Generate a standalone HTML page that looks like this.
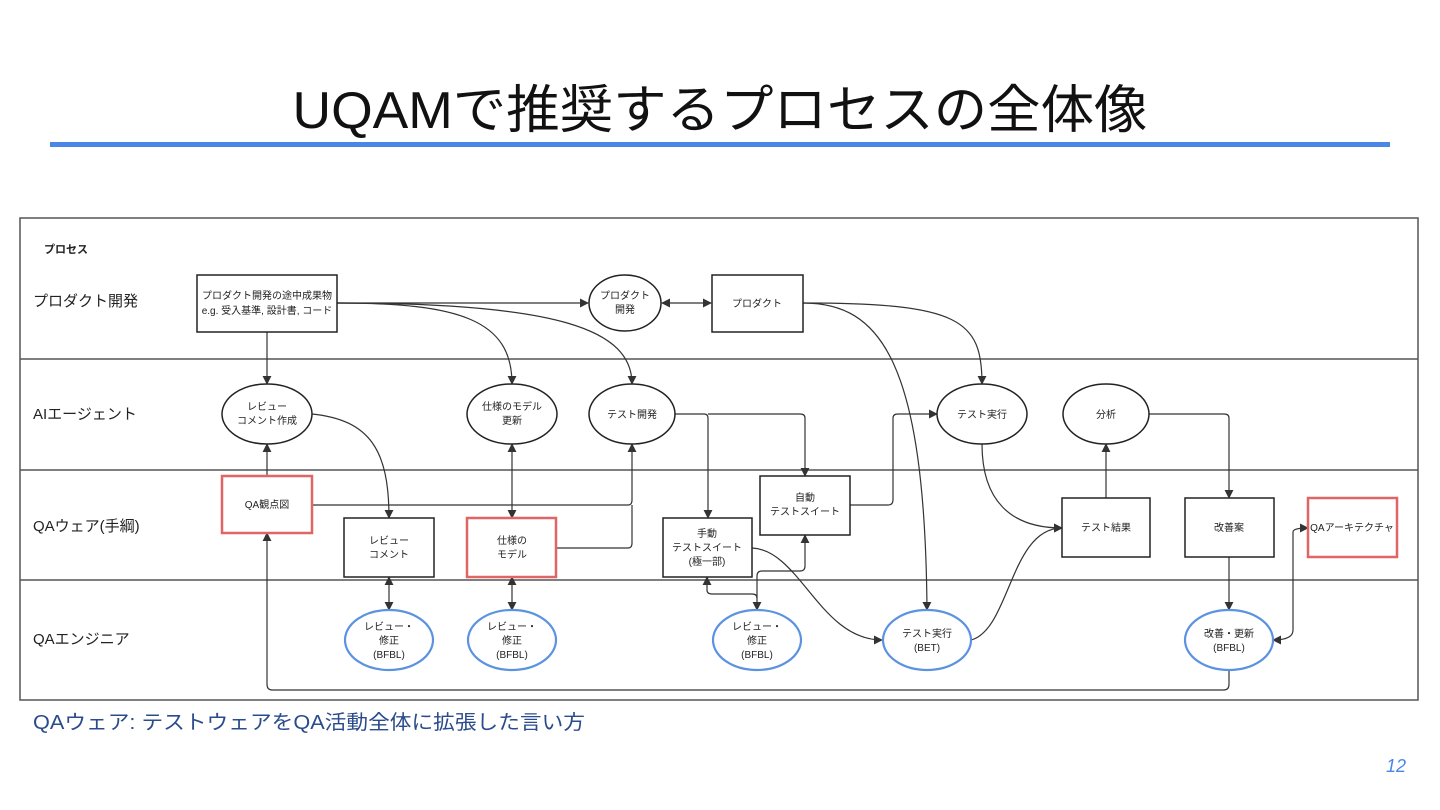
<!DOCTYPE html>
<html><head><meta charset="utf-8"><style>
html,body{margin:0;padding:0;background:#fff;}
svg{display:block;}
text{font-family:"Liberation Sans","Noto Sans CJK JP",sans-serif;fill:#222;}
</style></head><body>
<svg width="1440" height="810" viewBox="0 0 1440 810" xmlns="http://www.w3.org/2000/svg">
<defs>
<marker id="a" viewBox="0 0 10 10" refX="9" refY="5" markerWidth="9" markerHeight="9" markerUnits="userSpaceOnUse" orient="auto-start-reverse"><path d="M0,0L10,5L0,10z" fill="#333"/></marker>
</defs>
<text x="720" y="128" font-size="52" text-anchor="middle" textLength="855" lengthAdjust="spacingAndGlyphs" style="fill:#111">UQAMで推奨するプロセスの全体像</text>
<rect x="50" y="142" width="1340" height="5" fill="#4a86e8"/>

<g stroke="#555" fill="none" stroke-width="1.5">
<rect x="20" y="218" width="1398" height="482"/>
<line x1="20" y1="359" x2="1418" y2="359"/>
<line x1="20" y1="470" x2="1418" y2="470"/>
<line x1="20" y1="580" x2="1418" y2="580"/>
</g>
<text x="44" y="253" font-size="11" font-weight="bold">プロセス</text>
<g font-size="15">
<text x="33" y="306">プロダクト開発</text>
<text x="33" y="419">AIエージェント</text>
<text x="33" y="531">QAウェア(手綱)</text>
<text x="33" y="644">QAエンジニア</text>
</g>

<g stroke="#333" fill="none" stroke-width="1.2" marker-end="url(#a)">
<line x1="337" y1="303" x2="588" y2="303"/>
<line x1="662" y1="303" x2="711" y2="303" marker-start="url(#a)"/>
<line x1="267" y1="332" x2="267" y2="384"/>
<path d="M337,303 C460,303 512,320 512,384"/>
<path d="M337,303 C560,303 632,330 632,384"/>
<path d="M803,303 C960,303 982,320 982,384"/>
<path d="M803,303 C880,303 925,360 927,610"/>
<line x1="267" y1="476" x2="267" y2="444"/>
<path d="M312,414 C370,420 389,450 389,518"/>
<line x1="512" y1="444" x2="512" y2="518" marker-start="url(#a)"/>
<path d="M312,505 L628,505 Q632,505 632,500 L632,444"/>
<path d="M556,548 L628,548 Q632,548 632,543 L632,505" marker-end="none"/>
<path d="M675,414 L704,414 Q708,414 708,418 L708,518"/>
<path d="M708,414 L800,414 Q805,414 805,418 L805,476"/>
<path d="M850,505 L888,505 Q893,505 893,500 L893,418 Q893,414 898,414 L937,414"/>
<path d="M752,548 C800,550 820,640 882,640"/>
<path d="M982,444 C982,500 1010,528 1062,528"/>
<path d="M971,640 C1010,630 1010,528 1062,528"/>
<line x1="1106" y1="498" x2="1106" y2="444"/>
<path d="M1149,414 L1224,414 Q1229,414 1229,418 L1229,498"/>
<line x1="1229" y1="557" x2="1229" y2="610"/>
<path d="M1273,640 Q1293,640 1293,630 L1293,532 Q1293,528 1308,528" marker-start="url(#a)"/>
<line x1="389" y1="577" x2="389" y2="610" marker-start="url(#a)"/>
<line x1="512" y1="577" x2="512" y2="610" marker-start="url(#a)"/>
<path d="M707,577 L707,590 Q707,594 712,594 L752,594 Q757,594 757,598 L757,610" marker-start="url(#a)"/>
<path d="M757,598 L757,576 Q757,571 762,571 L800,571 Q805,571 805,566 L805,535"/>
<path d="M1229,670 L1229,684 Q1229,690 1224,690 L272,690 Q267,690 267,684 L267,533"/>
</g>

<g stroke="#222" stroke-width="1.5" fill="#fff">
<rect x="197" y="275" width="140" height="57"/>
<ellipse cx="625" cy="303" rx="36" ry="28"/>
<rect x="712" y="275" width="91" height="57"/>
<ellipse cx="267" cy="414" rx="45" ry="30"/>
<ellipse cx="512" cy="414" rx="45" ry="30"/>
<ellipse cx="632" cy="414" rx="43" ry="30"/>
<ellipse cx="982" cy="414" rx="45" ry="30"/>
<ellipse cx="1106" cy="414" rx="43" ry="30"/>
<rect x="344" y="518" width="90" height="59"/>
<rect x="663" y="518" width="89" height="59"/>
<rect x="760" y="476" width="90" height="59"/>
<rect x="1062" y="498" width="88" height="59"/>
<rect x="1185" y="498" width="89" height="59"/>
</g>
<g stroke="#e06666" stroke-width="2.5" fill="#fff">
<rect x="222" y="476" width="90" height="57"/>
<rect x="467" y="518" width="89" height="59"/>
<rect x="1308" y="498" width="89" height="59"/>
</g>
<g stroke="#5b93e0" stroke-width="2.2" fill="#fff">
<ellipse cx="389" cy="640" rx="44" ry="30"/>
<ellipse cx="512" cy="640" rx="44" ry="30"/>
<ellipse cx="757" cy="640" rx="44" ry="30"/>
<ellipse cx="927" cy="640" rx="44" ry="30"/>
<ellipse cx="1229" cy="640" rx="44" ry="30"/>
</g>

<g font-size="10" text-anchor="middle">
<text x="267" y="299">プロダクト開発の途中成果物</text>
<text x="267" y="314">e.g. 受入基準, 設計書, コード</text>
<text x="625" y="299">プロダクト</text><text x="625" y="313">開発</text>
<text x="757" y="307">プロダクト</text>
<text x="267" y="410">レビュー</text><text x="267" y="424">コメント作成</text>
<text x="512" y="410">仕様のモデル</text><text x="512" y="424">更新</text>
<text x="632" y="418">テスト開発</text>
<text x="982" y="418">テスト実行</text>
<text x="1106" y="418">分析</text>
<text x="267" y="508">QA観点図</text>
<text x="389" y="544">レビュー</text><text x="389" y="558">コメント</text>
<text x="512" y="544">仕様の</text><text x="512" y="558">モデル</text>
<text x="707" y="537">手動</text><text x="707" y="551">テストスイート</text><text x="707" y="565">(極一部)</text>
<text x="805" y="501">自動</text><text x="805" y="515">テストスイート</text>
<text x="1106" y="531">テスト結果</text>
<text x="1229" y="531">改善案</text>
<text x="1352" y="531">QAアーキテクチャ</text>
<text x="389" y="630">レビュー・</text><text x="389" y="644">修正</text><text x="389" y="658">(BFBL)</text>
<text x="512" y="630">レビュー・</text><text x="512" y="644">修正</text><text x="512" y="658">(BFBL)</text>
<text x="757" y="630">レビュー・</text><text x="757" y="644">修正</text><text x="757" y="658">(BFBL)</text>
<text x="927" y="637">テスト実行</text><text x="927" y="651">(BET)</text>
<text x="1229" y="637">改善・更新</text><text x="1229" y="651">(BFBL)</text>
</g>

<text x="33" y="729" font-size="20" textLength="552" lengthAdjust="spacingAndGlyphs" style="fill:#2b4c8c">QAウェア: テストウェアをQA活動全体に拡張した言い方</text>
<text x="1406" y="772" font-size="18" font-style="italic" text-anchor="end" style="fill:#4a86e8">12</text>
</svg>
</body></html>
